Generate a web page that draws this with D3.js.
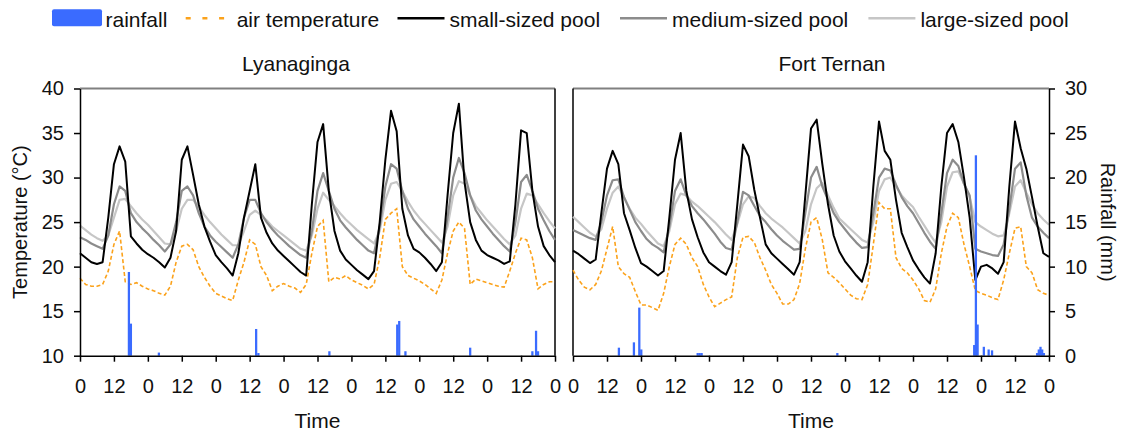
<!DOCTYPE html>
<html>
<head>
<meta charset="utf-8">
<script src="https://cdn.jsdelivr.net/npm/d3@7"></script>
<style>
  html, body { margin: 0; padding: 0; background: #fff; }
  svg { display: block; font-family: "Liberation Sans", Arial, sans-serif; }
  .axis text { font-size: 20px; fill: #111; }
  .axis path, .axis line { stroke: #000; stroke-width: 1.5px; }
</style>
</head>
<body>
<div id="chart"></div>
<script>
// time axis: hours since start, one value every 2 h (0..168)
const stepHours = 2;
const tickHours = [0, 12, 24, 36, 48, 60, 72, 84, 96, 108, 120, 132, 144, 156, 168];
const tempTicks = [10, 15, 20, 25, 30, 35, 40];
const rainTicks = [0, 5, 10, 15, 20, 25, 30];

// Lyanaginga (deg C), rows = days
const lyaSmall = [
  21.5, 21.0, 20.5, 20.3, 20.5, 25.5, 31.5, 33.5, 31.8, 23.4, 22.6, 21.9,
  21.4, 21.0, 20.5, 19.9, 21.0, 24.0, 32.0, 33.5, 30.3, 27.0, 24.5, 22.8,
  21.3, 20.5, 19.8, 19.0, 21.5, 25.5, 28.5, 31.5, 25.5, 23.8, 22.6, 21.8,
  21.2, 20.6, 20.0, 19.4, 19.0, 27.0, 34.0, 36.0, 28.5, 24.0, 21.8, 20.8,
  20.2, 19.6, 19.1, 18.6, 19.5, 25.0, 32.0, 37.5, 35.2, 26.5, 23.5, 22.0,
  21.6, 21.0, 20.3, 19.5, 20.5, 28.0, 35.0, 38.3, 29.5, 25.0, 23.0, 21.8,
  21.3, 21.0, 20.7, 20.3, 20.6, 27.0, 35.3, 35.0, 28.5, 24.5, 22.3, 21.3,
  20.5
];
const lyaMedium = [
  23.3, 23.0, 22.6, 22.3, 22.0, 23.5, 27.0, 29.0, 28.5, 26.0, 25.0, 24.3,
  23.7, 23.0, 22.4, 21.7, 22.5, 25.0, 28.5, 29.0, 28.0, 26.0, 24.5, 23.5,
  22.8, 22.2, 21.6, 21.0, 22.5, 25.5, 27.5, 27.5, 26.0, 25.0, 24.2, 23.5,
  22.9, 22.3, 21.8, 21.3, 21.0, 24.0, 28.5, 30.5, 28.5, 26.5, 25.2, 24.4,
  23.7, 23.0, 22.4, 21.8, 21.5, 24.5, 29.0, 31.5, 31.0, 28.5, 26.5, 25.3,
  24.5, 23.7, 23.0, 22.3, 21.5, 25.5, 30.0, 32.2, 30.5, 28.0, 26.3, 25.3,
  24.5, 23.7, 23.0, 22.3, 21.7, 25.0, 29.5, 30.3, 28.5, 26.5, 25.2, 24.0,
  23.0
];
const lyaLarge = [
  24.6, 24.1, 23.6, 23.2, 22.9, 23.5, 25.5, 27.5, 27.6, 26.8, 26.0, 25.3,
  24.7, 24.0, 23.3, 22.6, 22.5, 24.0, 26.5, 27.5, 27.5, 26.7, 25.8, 25.0,
  24.3, 23.6, 23.0, 22.4, 22.4, 24.0, 25.8, 26.3, 25.8, 25.2, 24.5, 24.0,
  23.5, 23.0, 22.5, 22.0, 21.8, 23.5, 26.5, 28.3, 27.5, 26.8, 26.0, 25.3,
  24.7, 24.1, 23.6, 23.1, 22.6, 24.0, 27.5, 29.3, 29.5, 28.5, 27.3, 26.3,
  25.5, 24.8, 24.1, 23.4, 22.7, 24.5, 28.0, 29.6, 29.3, 28.0, 26.8, 26.0,
  25.2, 24.5, 23.8, 23.1, 22.5, 23.5, 26.5, 28.2, 28.0, 27.0, 26.0, 25.1,
  24.3
];
const lyaAir = [
  18.7, 18.0, 17.8, 17.8, 18.0, 19.5, 22.5, 24.0, 18.3, 18.0, 18.2, 17.8,
  17.5, 17.3, 17.0, 16.8, 17.8, 20.5, 22.3, 22.5, 21.9, 20.0, 18.8, 17.8,
  17.0, 16.7, 16.4, 16.2, 18.5, 20.5, 23.0, 22.5, 20.0, 19.0, 17.3, 17.8,
  18.1, 17.8, 17.6, 17.1, 18.0, 21.5, 24.5, 25.2, 18.3, 18.8, 18.6, 19.0,
  18.5, 18.2, 17.9, 17.5, 18.0, 21.0, 25.3, 26.0, 26.5, 20.0, 19.0, 18.7,
  18.4, 18.0, 17.5, 17.0, 18.5, 21.5, 24.0, 25.0, 24.3, 18.0, 18.6, 18.4,
  18.2, 18.0, 17.8, 17.7, 19.5, 21.5, 23.2, 23.0, 21.0, 17.5, 18.0, 18.3,
  18.3
];
const lyaRainHour = [16.9, 17.6, 27.5, 61.9, 62.7, 87.8, 111.8, 112.5, 114.7, 137.6, 159.6, 160.9, 161.6];
const lyaRainMm   = [9.4, 3.6, 0.35, 3.0, 0.3, 0.5, 3.5, 3.9, 0.5, 0.9, 0.5, 2.8, 0.5];

// Fort Ternan (deg C)
const ftSmall = [
  21.8, 21.4, 20.9, 20.4, 20.8, 26.0, 31.0, 33.0, 31.5, 26.0, 24.1, 22.1,
  20.4, 20.0, 19.5, 19.0, 19.5, 25.5, 32.0, 35.0, 28.5, 25.3, 23.3, 21.6,
  20.5, 20.0, 19.5, 19.1, 20.5, 27.0, 33.7, 32.4, 28.6, 25.5, 22.5, 21.5,
  20.9, 20.3, 19.7, 19.1, 20.5, 28.0, 35.5, 36.5, 31.5, 27.0, 23.5, 21.7,
  20.6, 19.8, 19.0, 18.3, 20.5, 29.0, 36.3, 33.0, 32.0, 27.5, 23.8, 22.2,
  20.7, 19.7, 18.8, 18.1, 21.5, 29.0, 35.0, 36.0, 34.0, 30.0, 25.5, 18.5,
  20.0, 20.2, 19.8, 19.2, 20.5, 29.0, 36.3, 33.3, 31.0, 27.8, 24.5, 21.5,
  21.1
];
const ftMedium = [
  24.1, 23.8, 23.5, 23.2, 23.0, 25.0, 28.0, 29.7, 29.8, 27.8, 26.4, 25.0,
  24.0, 23.1, 22.5, 22.1, 21.6, 24.5, 28.5, 29.8, 28.0, 26.8, 26.0, 25.3,
  24.5, 23.7, 22.8, 22.1, 21.9, 25.0, 28.4, 28.0, 26.8, 25.7, 25.0, 24.2,
  23.5, 22.9, 22.4, 21.9, 22.0, 26.0, 30.0, 31.2, 29.0, 27.5, 26.0, 25.0,
  24.2, 23.4, 22.7, 22.1, 22.2, 26.0, 30.0, 31.0, 30.8, 29.2, 27.8, 26.8,
  26.0, 24.9, 23.8, 22.8, 22.0, 26.0, 30.5, 32.0, 31.3, 29.3, 28.0, 22.0,
  21.7, 21.5, 21.3, 21.2, 22.5, 26.5, 31.0, 31.7, 28.0, 25.5, 24.5, 23.8,
  23.2
];
const ftLarge = [
  25.6, 25.0, 24.4, 23.8, 23.4, 24.2, 26.5, 28.3, 29.0, 27.8, 26.5, 25.5,
  24.8, 24.0, 23.3, 22.6, 22.3, 24.0, 27.0, 28.2, 28.0, 27.3, 26.8, 26.2,
  25.6, 25.0, 24.3, 23.6, 23.0, 24.8, 27.0, 27.9, 27.7, 26.8, 26.0, 25.4,
  24.9, 24.4, 23.8, 23.2, 22.6, 24.0, 27.0, 28.8, 29.4, 28.0, 26.6, 25.4,
  24.8, 24.2, 23.6, 23.0, 22.7, 25.0, 28.5, 29.8, 30.0, 29.0, 28.0, 27.3,
  26.7, 25.6, 24.6, 23.6, 22.7, 25.0, 29.0, 30.6, 30.7, 29.3, 27.8, 25.0,
  24.5, 24.1, 23.7, 23.4, 23.5, 26.0, 29.0, 29.7, 28.3, 27.0, 26.0, 25.3,
  24.7
];
const ftAir = [
  19.6, 18.5, 17.7, 17.4, 18.0, 19.5, 22.0, 24.5, 20.0, 19.2, 18.8, 17.2,
  15.7, 15.7, 15.4, 15.1, 17.0, 20.0, 22.5, 23.2, 22.5, 21.0, 20.0, 18.0,
  16.6, 15.5, 15.9, 16.3, 16.6, 21.0, 23.3, 23.4, 22.7, 21.0, 19.6, 18.0,
  17.0, 15.8, 15.8, 16.3, 18.1, 22.0, 25.0, 25.5, 23.0, 19.3, 18.8, 18.2,
  17.5, 16.8, 16.4, 16.3, 18.0, 22.5, 27.2, 26.5, 26.5, 21.0, 19.8, 19.3,
  18.5, 17.5, 16.2, 16.0, 17.5, 21.5, 24.5, 26.0, 25.5, 22.5, 20.0, 17.3,
  17.0, 16.8, 16.5, 16.3, 18.5, 21.5, 24.3, 24.5, 20.0, 19.3, 17.4, 17.0,
  16.8
];
const ftRainHour = [15.8, 21.1, 23.0, 23.7, 43.6, 44.3, 45.0, 92.9, 141.2, 141.8, 142.4, 144.6, 146.3, 147.5, 163.4, 164.0, 164.6, 165.2, 165.8];
const ftRainMm   = [0.9, 1.5, 5.4, 0.7, 0.3, 0.3, 0.3, 0.3, 1.2, 22.5, 3.5, 1.0, 0.7, 0.6, 0.3, 0.7, 1.0, 0.7, 0.3];

const colors = { rain: '#3a6bff', air: '#fba21b', small: '#000000', medium: '#8c8c8c', large: '#c6c6c6' };

const width = 1121, height = 433;
const plotTop = 88.5, plotBottom = 355.7;

const svg = d3.select('#chart').append('svg')
  .attr('width', width)
  .attr('height', height);

const yTemp = d3.scaleLinear().domain([10, 40]).range([plotBottom, plotTop]);
const yRain = d3.scaleLinear().domain([0, 30]).range([plotBottom, plotTop]);

const panels = [
  { title: 'Lyanaginga', titleX: 296, x0: 80, x1: 555, small: lyaSmall, medium: lyaMedium, large: lyaLarge, air: lyaAir, rainH: lyaRainHour, rainMm: lyaRainMm },
  { title: 'Fort Ternan', titleX: 832, x0: 573, x1: 1049, small: ftSmall, medium: ftMedium, large: ftLarge, air: ftAir, rainH: ftRainHour, rainMm: ftRainMm }
];

panels.forEach((p, pi) => {
  const x = d3.scaleLinear().domain([0, 168]).range([p.x0, p.x1]);
  const g = svg.append('g');

  // frame: grey top edge, black inner sides
  g.append('line')
    .attr('x1', p.x0).attr('x2', p.x1).attr('y1', plotTop).attr('y2', plotTop)
    .attr('stroke', '#808080').attr('stroke-width', 2);
  g.append('line')
    .attr('x1', pi === 0 ? p.x1 : p.x0).attr('x2', pi === 0 ? p.x1 : p.x0)
    .attr('y1', plotTop).attr('y2', plotBottom)
    .attr('stroke', '#000').attr('stroke-width', 1.5);

  const line = d3.line()
    .x((d, i) => x(i * stepHours))
    .y(d => yTemp(d));

  // pool temperatures
  [['large', 2.2], ['medium', 2.2], ['small', 2]].forEach(([k, w]) => {
    g.append('path')
      .datum(p[k])
      .attr('d', line)
      .attr('fill', 'none')
      .attr('stroke', colors[k])
      .attr('stroke-width', w)
      .attr('stroke-linejoin', 'round');
  });

  // air temperature
  g.append('path')
    .datum(p.air)
    .attr('d', line)
    .attr('fill', 'none')
    .attr('stroke', colors.air)
    .attr('stroke-width', 1.6)
    .attr('stroke-dasharray', '4,2.5');

  // rainfall bars
  const rain = p.rainH.map((h, i) => ({ h, mm: p.rainMm[i] }));
  g.selectAll('.rain')
    .data(rain)
    .enter()
    .append('rect')
    .attr('class', 'rain')
    .attr('x', d => x(d.h))
    .attr('y', d => yRain(d.mm))
    .attr('width', x(0.8) - x(0))
    .attr('height', d => plotBottom - yRain(d.mm))
    .attr('fill', colors.rain);

  // x axis
  g.append('g')
    .attr('class', 'axis')
    .attr('transform', `translate(0, ${plotBottom})`)
    .call(d3.axisBottom(x)
      .tickValues(tickHours)
      .tickSize(6)
      .tickSizeOuter(0)
      .tickPadding(17)
      .tickFormat(h => (h % 24 === 0 ? '0' : '12')));

  // panel title and x label
  svg.append('text')
    .attr('x', p.titleX).attr('y', 71)
    .attr('text-anchor', 'middle')
    .style('font-size', '21px').style('fill', '#111')
    .text(p.title);
  svg.append('text')
    .attr('x', (p.x0 + p.x1) / 2).attr('y', 428)
    .attr('text-anchor', 'middle')
    .style('font-size', '21px').style('fill', '#111')
    .text('Time');

  if (pi === 0) {
    g.append('g')
      .attr('class', 'axis')
      .attr('transform', `translate(${p.x0}, 0)`)
      .call(d3.axisLeft(yTemp).tickValues(tempTicks).tickSize(6).tickSizeOuter(0).tickPadding(10));
  } else {
    g.append('g')
      .attr('class', 'axis')
      .attr('transform', `translate(${p.x1}, 0)`)
      .call(d3.axisRight(yRain).tickValues(rainTicks).tickSize(6).tickSizeOuter(0).tickPadding(10));
  }
});

// axis titles
svg.append('text')
  .attr('transform', `translate(26.5, ${(plotTop + plotBottom) / 2}) rotate(-90)`)
  .attr('text-anchor', 'middle')
  .style('font-size', '20px').style('fill', '#111')
  .text('Temperature (°C)');
svg.append('text')
  .attr('transform', `translate(1101, ${(plotTop + plotBottom) / 2}) rotate(90)`)
  .attr('text-anchor', 'middle')
  .style('font-size', '20px').style('fill', '#111')
  .text('Rainfall (mm)');

// legend
const legend = svg.append('g').style('font-size', '21px').style('fill', '#111');
const legY = 18.3;
legend.append('rect')
  .attr('x', 52).attr('y', 9.3).attr('width', 50).attr('height', 17)
  .attr('rx', 2).attr('fill', colors.rain);
legend.append('text').attr('x', 105.5).attr('y', 26.5).text('rainfall');
legend.append('line')
  .attr('x1', 185.7).attr('x2', 226).attr('y1', legY).attr('y2', legY)
  .attr('stroke', colors.air).attr('stroke-width', 2.5).attr('stroke-dasharray', '5,11.7');
legend.append('text').attr('x', 236.7).attr('y', 26.5).text('air temperature');

const poolLegend = [
  { key: 'small', label: 'small-sized pool', x: 397.5 },
  { key: 'medium', label: 'medium-sized pool', x: 620 },
  { key: 'large', label: 'large-sized pool', x: 868.4 }
];
poolLegend.forEach(d => {
  legend.append('line')
    .attr('x1', d.x).attr('x2', d.x + 47).attr('y1', legY).attr('y2', legY)
    .attr('stroke', colors[d.key]).attr('stroke-width', 2.5);
  legend.append('text').attr('x', d.x + 52).attr('y', 26.5).text(d.label);
});
</script>
</body>
</html>
